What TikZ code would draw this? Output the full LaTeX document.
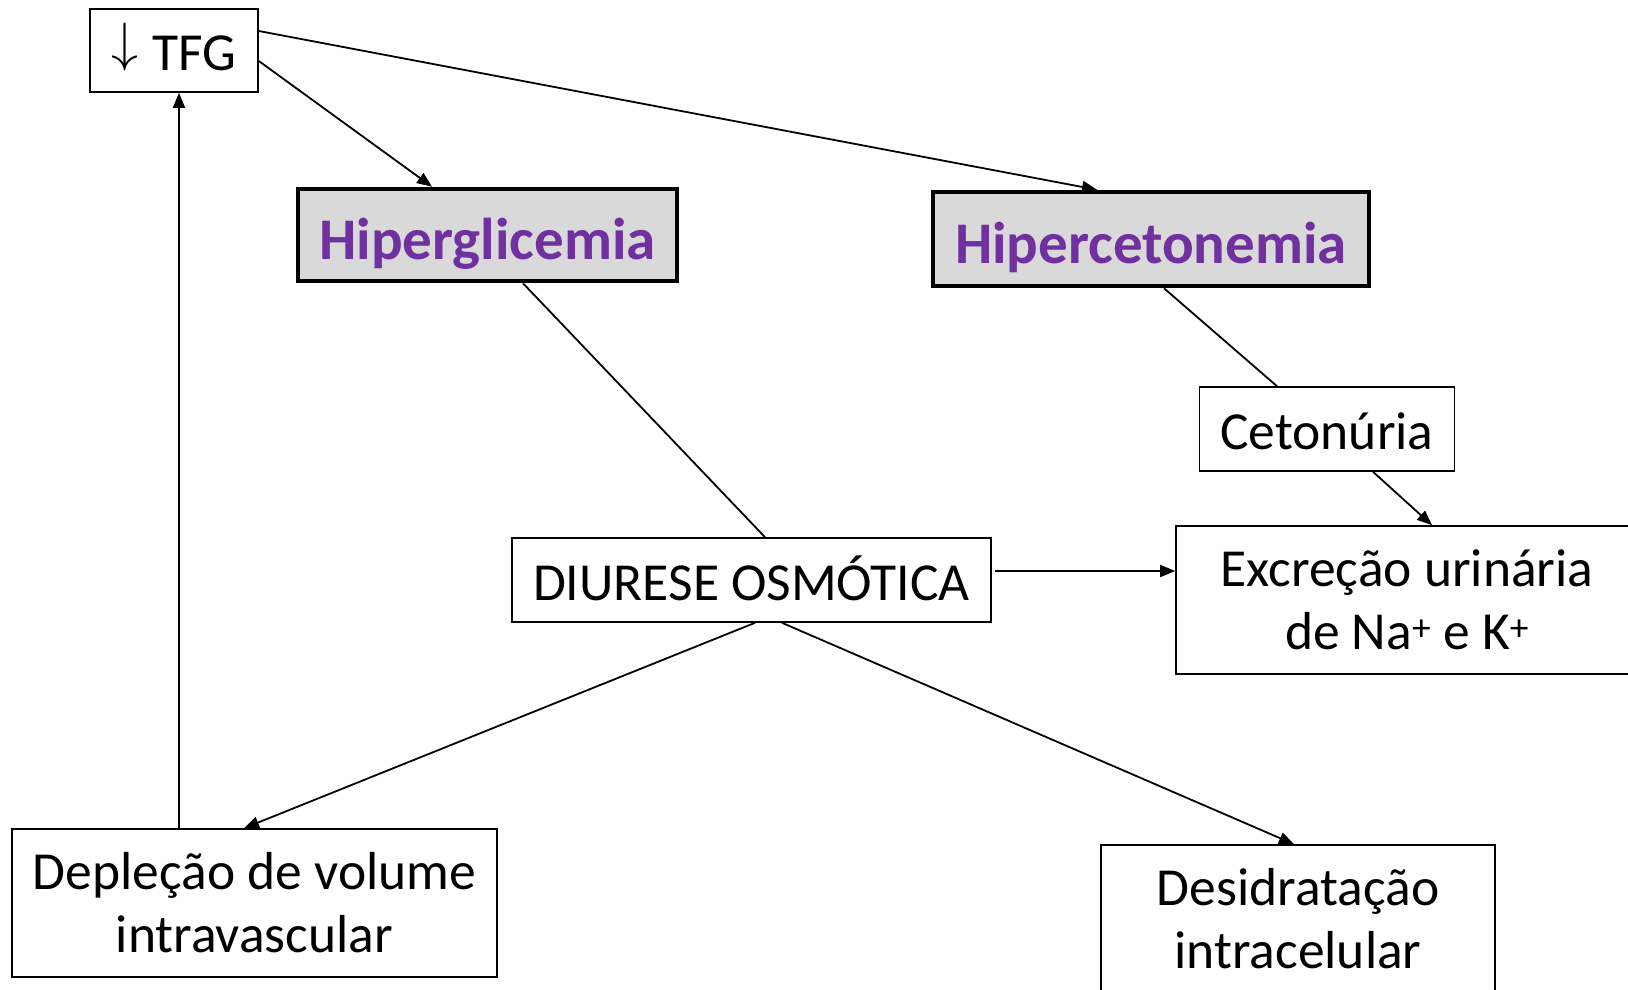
\documentclass[tikz,border=0pt]{standalone}
\usepackage{graphicx}
\usepackage{fontspec}
\setmainfont{Carlito}
\usetikzlibrary{arrows.meta}
\definecolor{hpurple}{HTML}{7030A0}
\definecolor{hgrey}{HTML}{D9D9D9}
\tikzset{
  plainbox/.style={draw=black, line width=1.6pt, fill=white, inner sep=0pt, align=center,
    font=\fontsize{53.5}{63}\selectfont},
  oneline/.style={text height=53pt, text depth=13pt},
  keybox/.style={draw=black, line width=4.5pt, fill=hgrey, inner sep=0pt, align=center,
    text=hpurple, font=\fontsize{59}{69}\selectfont\bfseries, text height=61pt, text depth=12pt},
  conn/.style={line width=1.8pt, draw=black},
  arr/.style={conn, -{Triangle[length=15pt,width=12pt]}}
}
\newcommand{\downarr}{\raisebox{10pt}{\resizebox*{!}{48pt}{\normalsize$\downarrow$}}}
\begin{document}
\begin{tikzpicture}[x=1pt,y=-1pt]
\useasboundingbox (0,0) rectangle (1628,989);
\clip (0,0) rectangle (1628,989);
\node[plainbox, oneline, minimum width=168pt, minimum height=83pt] (tfg) at (174,50.5) {\downarr\hspace{14pt}TFG};
\node[keybox, minimum width=379pt, minimum height=92pt] (hg) at (487.5,235) {Hiperglicemia};
\node[keybox, minimum width=436pt, minimum height=94pt] (hc) at (1151,239) {Hipercetonemia};
\node[plainbox, oneline, minimum width=255pt, minimum height=84pt] (ceto) at (1327,429) {Cetonúria};
\node[plainbox, minimum width=462pt, minimum height=148pt] (exc) at (1407,600) {Excreção urinária\\de Na\textsuperscript{+} e K\textsuperscript{+}};
\node[plainbox, oneline, minimum width=479pt, minimum height=84pt] (diu) at (751.5,580) {DIURESE OSMÓTICA};
\node[plainbox, minimum width=485pt, minimum height=148pt] (dep) at (254.5,903) {Depleção de volume\\intravascular};
\node[plainbox, minimum width=394pt, minimum height=148pt] (des) at (1298,919) {Desidratação\\intracelular};

\draw[arr] ([yshift=19.5pt]tfg.east) -- ([xshift=-54pt]hc.north);
\draw[arr] ([yshift=-10.5pt]tfg.east) -- ([xshift=-55.5pt]hg.north);
\draw[conn] ([xshift=35.5pt]hg.south) -- ([xshift=13.5pt]diu.north);
\draw[conn] ([xshift=13pt]hc.south) -- ([xshift=-50pt]ceto.north);
\draw[arr] ([xshift=46pt]ceto.south) -- ([xshift=25pt]exc.north);
\draw[arr] ([xshift=3pt,yshift=9pt]diu.east) -- ([yshift=29pt]exc.west);
\draw[arr] ([xshift=3.5pt]diu.south) -- ([xshift=-10.5pt]dep.north);
\draw[arr] ([xshift=30.5pt]diu.south) -- ([xshift=-4pt]des.north);
\draw[arr] ([xshift=-75.5pt]dep.north) -- ([xshift=5pt]tfg.south);
\end{tikzpicture}
\end{document}
